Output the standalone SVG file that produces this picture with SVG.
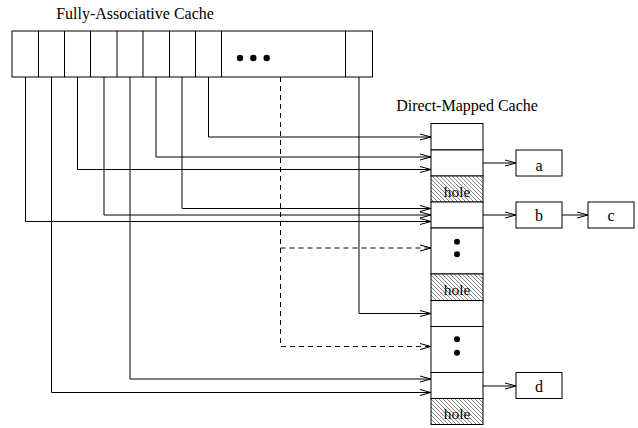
<svg xmlns="http://www.w3.org/2000/svg" width="638" height="428" viewBox="0 0 638 428">
<style>
.ln{fill:none;stroke:#000;stroke-width:1}
.ds{fill:none;stroke:#000;stroke-width:1;stroke-dasharray:5,4}
.bx{fill:#fff;stroke:#000;stroke-width:1}
.hl{fill:url(#hatch);stroke:#000;stroke-width:1}
.t{font-family:"Liberation Serif","Times New Roman",serif;fill:#000}
.dot{fill:#000}
</style>
<defs>
<pattern id="hatch" patternUnits="userSpaceOnUse" width="4" height="4">
<rect width="4" height="4" fill="#fff"/>
<path d="M-1,-1 L5,5 M-1,3 L1,5 M3,-1 L5,1" stroke="#555" stroke-width="0.7"/>
</pattern>
<marker id="arr" markerUnits="userSpaceOnUse" markerWidth="13" markerHeight="8" refX="12" refY="4" orient="auto">
<path d="M1,1 L12,4 L1,7" fill="none" stroke="#000" stroke-width="1"/>
</marker>
</defs>
<rect width="638" height="428" fill="#fff"/>

<g id="fa-cache">
<text class="t" x="135" y="19" font-size="16" text-anchor="middle">Fully-Associative Cache</text>
<rect class="bx" x="12" y="31" width="360.5" height="46"/>
<path class="ln" d="M38.5,31V77M64.5,31V77M90.5,31V77M117,31V77M143,31V77M169.5,31V77M195.5,31V77M221.5,31V77M345.5,31V77"/>
<circle class="dot" cx="240" cy="58" r="3.2"/>
<circle class="dot" cx="253.3" cy="58" r="3.2"/>
<circle class="dot" cx="266.7" cy="58" r="3.2"/>
</g>

<g id="dm-cache">
<text class="t" x="467" y="110.5" font-size="16" text-anchor="middle">Direct-Mapped Cache</text>
<rect class="bx" x="431" y="123.5" width="52" height="26.5"/>
<rect class="bx" x="431" y="150" width="52" height="26"/>
<rect class="hl" x="431" y="176" width="52" height="26"/>
<text class="t" x="457" y="196.5" font-size="15.5" text-anchor="middle">hole</text>
<rect class="bx" x="431" y="202" width="52" height="26"/>
<rect class="bx" x="431" y="228" width="52" height="46"/>
<circle class="dot" cx="457" cy="241.7" r="3"/>
<circle class="dot" cx="457" cy="254.3" r="3"/>
<rect class="hl" x="431" y="274" width="52" height="26.5"/>
<text class="t" x="457" y="294.5" font-size="15.5" text-anchor="middle">hole</text>
<rect class="bx" x="431" y="300.5" width="52" height="26"/>
<rect class="bx" x="431" y="326.5" width="52" height="46"/>
<circle class="dot" cx="457" cy="339.3" r="3"/>
<circle class="dot" cx="457" cy="352.7" r="3"/>
<rect class="bx" x="431" y="372.5" width="52" height="26"/>
<rect class="hl" x="431" y="398.5" width="52" height="26"/>
<text class="t" x="457" y="419" font-size="15.5" text-anchor="middle">hole</text>
</g>

<g id="node-a">
<rect class="bx" x="516" y="150" width="46" height="26"/>
<text class="t" x="539" y="170.5" font-size="16" text-anchor="middle">a</text>
</g>
<g id="node-b">
<rect class="bx" x="516" y="202" width="46" height="26"/>
<text class="t" x="539" y="221" font-size="16" text-anchor="middle">b</text>
</g>
<g id="node-c">
<rect class="bx" x="588" y="202" width="46" height="26"/>
<text class="t" x="611" y="221" font-size="16" text-anchor="middle">c</text>
</g>
<g id="node-d">
<rect class="bx" x="516" y="372.5" width="46" height="26"/>
<text class="t" x="539" y="392" font-size="16" text-anchor="middle">d</text>
</g>

<g id="connectors">
<path class="ln" marker-end="url(#arr)" d="M208.5,77V137H431"/>
<path class="ln" marker-end="url(#arr)" d="M156,77V157H431"/>
<path class="ln" marker-end="url(#arr)" d="M77.5,77V169.5H431"/>
<path class="ln" marker-end="url(#arr)" d="M182,77V208.5H431"/>
<path class="ln" marker-end="url(#arr)" d="M104,77V215H431"/>
<path class="ln" marker-end="url(#arr)" d="M25.5,77V221.5H431"/>
<path class="ds" marker-end="url(#arr)" d="M280.5,77V346.5H431"/>
<path class="ds" marker-end="url(#arr)" d="M280.5,248H431"/>
<path class="ln" marker-end="url(#arr)" d="M359,77V313.5H431"/>
<path class="ln" marker-end="url(#arr)" d="M130,77V379H431"/>
<path class="ln" marker-end="url(#arr)" d="M51.5,77V392.5H431"/>
<path class="ln" marker-end="url(#arr)" d="M483,163H516"/>
<path class="ln" marker-end="url(#arr)" d="M483,215H516"/>
<path class="ln" marker-end="url(#arr)" d="M562,215H588"/>
<path class="ln" marker-end="url(#arr)" d="M483,386H516"/>
</g>
</svg>
